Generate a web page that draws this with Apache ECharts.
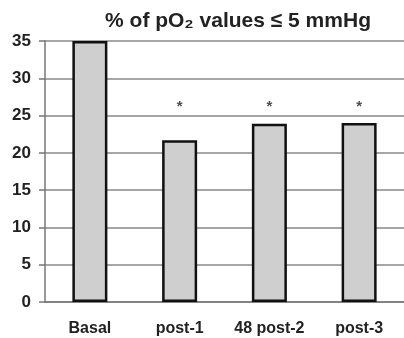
<!DOCTYPE html>
<html><head><meta charset="utf-8">
<script src="https://cdn.jsdelivr.net/npm/echarts@6/dist/echarts.min.js"></script>
<style>html,body{margin:0;padding:0;background:#fff}#c{width:404px;height:338px}</style>
</head><body><div id="c"></div>
<script>
var categories = ['Basal', 'post-1', '48 post-2', 'post-3'];
var values = [35, 21.7, 23.9, 24.0];
var starMarks = ['', '*', '*', '*'];
var starLevel = 26.6;
var yTicks = [0, 5, 10, 15, 20, 25, 30, 35];

var chart = echarts.init(document.getElementById('c'));
chart.setOption({
  animation: false,
  title: {
    text: '% of pO\u2082 values \u2264 5 mmHg',
    left: 233, textAlign: 'center', top: 6,
    textStyle: {fontFamily: 'Liberation Sans', fontWeight: 'bold', fontSize: 21, color: '#222'}
  },
  grid: {left: 45, right: 0, top: 41, bottom: 36},
  xAxis: {
    type: 'category', data: categories,
    axisLine: {lineStyle: {color: '#777', width: 1.5}},
    axisTick: {inside: true, length: 4, lineStyle: {color: '#555', width: 1.5}},
    axisLabel: {interval: 0, fontFamily: 'Liberation Sans', fontWeight: 'bold', fontSize: 16, color: '#222', margin: 19}
  },
  yAxis: {
    type: 'value', min: 0, max: 35, interval: 5,
    axisLine: {show: true, lineStyle: {color: '#777', width: 1.5}},
    axisTick: {show: true, length: 6, lineStyle: {color: '#777', width: 1.5}},
    splitLine: {lineStyle: {color: '#888', width: 1.5}},
    axisLabel: {fontFamily: 'Liberation Sans', fontWeight: 'bold', fontSize: 17, color: '#222', margin: 14,
      formatter: function (v) { return yTicks.indexOf(v) >= 0 ? String(v) : ''; }}
  },
  series: [{
    type: 'bar', data: values, barWidth: 35,
    itemStyle: {color: '#cfcfcf', borderColor: '#111', borderWidth: 2.5}
  }, {
    type: 'scatter', symbolSize: 1, itemStyle: {color: 'rgba(0,0,0,0)'},
    data: starMarks.map(function (s, i) { return s ? [i, starLevel] : null; }).filter(Boolean),
    label: {show: true, position: 'inside', formatter: '*', fontFamily: 'Liberation Sans', fontWeight: 'bold', fontSize: 15, color: '#222', offset: [0, 3]}
  }]
});
</script></body></html>
